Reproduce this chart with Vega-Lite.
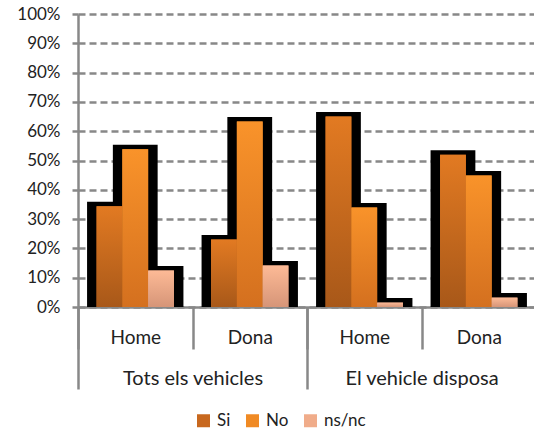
{
  "$schema": "https://vega.github.io/schema/vega-lite/v6.json",
  "autosize": {"type": "none"},
  "width": 458,
  "height": 293,
  "padding": {"left": 78, "top": 14, "right": 0, "bottom": 125},
  "background": "white",
  "config": {
    "view": {"stroke": null},
    "font": "Lato",
    "axis": {"labelFont": "Lato", "labelColor": "#222", "titleColor": "#222"},
    "legend": {"labelFont": "Lato", "labelColor": "#222"}
  },
  "datasets": {
    "bars": [
      {"key": "Tots|Home", "series": "Si", "value": 34.4},
      {"key": "Tots|Home", "series": "No", "value": 53.8},
      {"key": "Tots|Home", "series": "ns/nc", "value": 12.5},
      {"key": "Tots|Dona", "series": "Si", "value": 23.0},
      {"key": "Tots|Dona", "series": "No", "value": 63.3},
      {"key": "Tots|Dona", "series": "ns/nc", "value": 14.2},
      {"key": "Disposa|Home", "series": "Si", "value": 65.0},
      {"key": "Disposa|Home", "series": "No", "value": 34.0},
      {"key": "Disposa|Home", "series": "ns/nc", "value": 1.5},
      {"key": "Disposa|Dona", "series": "Si", "value": 52.0},
      {"key": "Disposa|Dona", "series": "No", "value": 44.9},
      {"key": "Disposa|Dona", "series": "ns/nc", "value": 3.2}
    ],
    "groups": [
      {"group": "Tots els vehicles"},
      {"group": "El vehicle disposa"}
    ]
  },
  "layer": [
    {
      "data": {"name": "bars"},
      "encoding": {
        "x": {
          "field": "key", "type": "nominal",
          "sort": ["Tots|Home", "Tots|Dona", "Disposa|Home", "Disposa|Dona"],
          "scale": {"paddingInner": 0, "paddingOuter": 0},
          "axis": {
            "orient": "bottom",
            "title": null, "labelExpr": "split(datum.label, '|')[1]",
            "labelAngle": 0, "tickBand": "extent", "tickSize": 42,
            "tickColor": "#888", "tickWidth": 2.5,
            "domainColor": "#888", "domainWidth": 2.5,
            "labelPadding": -20.7, "labelFontSize": 19
          }
        },
        "xOffset": {
          "field": "series", "type": "nominal",
          "sort": ["Si", "No", "ns/nc"],
          "scale": {"domain": ["Si", "No", "ns/nc"], "paddingInner": 0, "paddingOuter": 0.72}
        },
        "y": {
          "field": "value", "type": "quantitative",
          "scale": {"domain": [0, 100], "nice": false},
          "axis": {
            "title": null, "values": [0, 10, 20, 30, 40, 50, 60, 70, 80, 90, 100],
            "labelExpr": "datum.value + '%'", "labelFontSize": 17,
            "grid": true, "gridDash": [7, 4], "gridColor": "#888", "gridWidth": 2.5,
            "domainColor": "#888", "domainWidth": 2.5,
            "tickColor": "#888", "tickWidth": 2.5, "tickSize": 6, "labelPadding": 12
          }
        }
      },
      "layer": [
        {
          "mark": {"type": "bar", "color": "black", "stroke": "black", "strokeWidth": 19, "xOffset": 2, "yOffset": 5, "clip": true}
        },
        {
          "mark": {"type": "bar"},
          "encoding": {
            "color": {
              "field": "series", "type": "nominal",
              "scale": {"domain": ["Si", "No", "ns/nc"], "range": ["#C8681E", "#F08A24", "#F0AC8A"]},
              "legend": {
                "orient": "none", "legendX": 117, "legendY": 398, "direction": "horizontal",
                "title": null, "symbolType": "square", "symbolSize": 169, "symbolStrokeWidth": 0,
                "labelFontSize": 17, "columnPadding": 13, "labelOffset": 5
              }
            }
          }
        },
        {
          "transform": [{"filter": "datum.series === 'Si'"}],
          "mark": {"type": "bar", "color": {"gradient": "linear", "x1": 0, "y1": 0, "x2": 0, "y2": 1,
            "stops": [{"offset": 0, "color": "#E27A22"}, {"offset": 1, "color": "#A85819"}]}}
        },
        {
          "transform": [{"filter": "datum.series === 'No'"}],
          "mark": {"type": "bar", "color": {"gradient": "linear", "x1": 0, "y1": 0, "x2": 0, "y2": 1,
            "stops": [{"offset": 0, "color": "#F9932A"}, {"offset": 1, "color": "#D4701F"}]}}
        },
        {
          "transform": [{"filter": "datum.series === 'ns/nc'"}],
          "mark": {"type": "bar", "color": {"gradient": "linear", "x1": 0, "y1": 0, "x2": 0, "y2": 1,
            "stops": [{"offset": 0, "color": "#FDBA96"}, {"offset": 1, "color": "#D69578"}]}}
        }
      ]
    },
    {
      "data": {"name": "groups"},
      "mark": {"type": "tick", "opacity": 0},
      "encoding": {
        "x": {
          "field": "group", "type": "nominal",
          "sort": ["Tots els vehicles", "El vehicle disposa"],
          "scale": {"paddingInner": 0, "paddingOuter": 0},
          "axis": {
            "orient": "bottom",
            "title": null, "labelAngle": 0, "tickBand": "extent", "tickSize": 82,
            "tickColor": "#888", "tickWidth": 2.5, "domain": false,
            "labelPadding": -20.8, "labelFontSize": 20
          }
        }
      }
    }
  ],
  "resolve": {"scale": {"x": "independent"}, "axis": {"x": "independent"}}
}
